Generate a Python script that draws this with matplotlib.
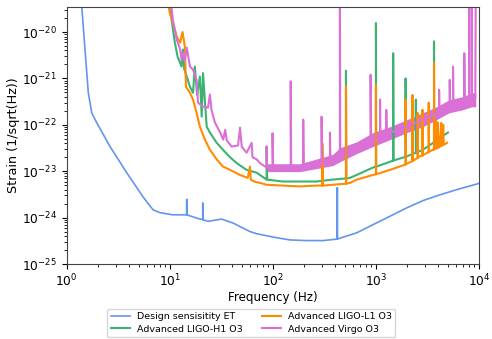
import numpy as np
import matplotlib.pyplot as plt

# Einstein Telescope design curve (Hz, 1/sqrt(Hz))
et_freq = [1.36, 1.40, 1.505, 1.62, 1.75, 1.95, 2.63, 3.82, 5.5, 6.87, 8.0, 10.7,
           14.6, 14.6, 14.6, 19.6, 20.9, 20.9, 20.9, 23.6, 31.8, 41.3, 60, 69.7, 101,
           147, 213, 308, 422, 422, 422, 650, 942, 1368, 1985, 2877, 4178, 6067, 9820, 10000]
et_strain = [6e-20, 3.5e-20, 4.15e-21, 4.9e-22, 1.8e-22, 1.12e-22, 3.4e-23, 9.3e-24, 2.8e-24,
             1.48e-24, 1.28e-24, 1.15e-24, 1.15e-24, 2.45e-24, 1.15e-24, 9.3e-25, 9.1e-25,
             2.04e-24, 9.0e-25, 8.3e-25, 9.3e-25, 7.6e-25, 5.0e-25, 4.5e-25, 3.8e-25, 3.3e-25,
             3.2e-25, 3.2e-25, 3.45e-25, 4.4e-24, 3.45e-25, 4.7e-25, 7.1e-25, 1.07e-24,
             1.62e-24, 2.34e-24, 3.1e-24, 4.0e-24, 5.4e-24, 5.5e-24]

# Advanced LIGO Hanford O3
h1_freq = [9.6, 10.4, 11.2, 11.9, 13.0, 13.4, 13.8, 14.6, 15.7, 16.8, 17.5, 18.4, 19.6,
           20.4, 21.0, 22.8, 24.5, 28.5, 32.8, 38.4, 44.5, 55.6, 69.6, 87, 87, 88, 125,
           183, 265, 380, 512, 512, 516, 560, 650, 935, 1000, 1000, 1005, 1370, 1470,
           1470, 1480, 1940, 1940, 1950, 2000, 2440, 2440, 2450, 2850, 3660, 3660, 3670,
           3870, 5000]
h1_strain = [5e-20, 1.85e-20, 5.9e-21, 2.95e-21, 1.8e-21, 4.2e-21, 1.6e-21, 1.1e-21,
             6.6e-22, 4.9e-22, 1.8e-21, 4.4e-22, 1.1e-21, 1.5e-22, 1.3e-21, 9.1e-23,
             6.8e-23, 4.1e-23, 2.9e-23, 2.0e-23, 1.5e-23, 1.07e-23, 9.3e-24, 6.6e-24,
             3.4e-23, 6.6e-24, 6.0e-24, 6.0e-24, 6.0e-24, 6.6e-24, 7.0e-24, 1.47e-21,
             7.0e-24, 7.2e-24, 8.3e-24, 1.2e-23, 1.25e-23, 1.56e-20, 1.25e-23, 1.6e-23,
             1.7e-23, 3.5e-21, 1.7e-23, 2.05e-23, 1.0e-21, 2.05e-23, 2.1e-23, 2.5e-23,
             3.5e-22, 2.5e-23, 2.9e-23, 4.2e-23, 6.3e-21, 4.2e-23, 4.8e-23, 6.8e-23]

# Advanced LIGO Livingston O3
l1_freq = [9.5, 10.0, 10.7, 11.7, 12.6, 13.3, 14.0, 14.35, 15.7, 16.8, 18.2, 19.6, 21.9,
           24.5, 28.5, 32.8, 38.4, 48, 57, 60, 61, 67, 75, 87, 125, 183, 265, 302, 302,
           305, 380, 512, 512, 516, 560, 650, 935, 1000, 1000, 1005, 1370, 1940, 1940,
           1950, 2000, 2260, 2260, 2270, 2540, 2540, 2550, 2670, 2830, 2830, 2840, 3250,
           3250, 3260, 3340, 3660, 3660, 3670, 3800, 3850, 3900, 4000, 4050, 4180, 4300,
           4350, 4500, 4550, 4900]
l1_strain = [5e-20, 2.6e-20, 1.6e-20, 7.9e-21, 5.9e-21, 1.0e-20, 4.8e-21, 6.6e-22, 4.9e-22,
             3.5e-22, 1.8e-22, 9.1e-23, 4.8e-23, 2.9e-23, 1.8e-23, 1.26e-23, 1.07e-23,
             8.3e-24, 7.2e-24, 1.26e-23, 6.6e-24, 5.9e-24, 5.6e-24, 5.1e-24, 4.9e-24,
             4.7e-24, 4.9e-24, 4.9e-24, 4.0e-23, 4.9e-24, 5.1e-24, 5.4e-24, 6.7e-22,
             5.4e-24, 5.6e-24, 6.6e-24, 8.3e-24, 8.6e-24, 7.3e-22, 8.6e-24, 1.07e-23,
             1.4e-23, 3.5e-22, 1.4e-23, 1.45e-23, 1.65e-23, 4.4e-22, 1.65e-23, 1.95e-23,
             1.8e-22, 1.95e-23, 2.1e-23, 2.2e-23, 2.1e-22, 2.2e-23, 2.6e-23, 3.0e-22,
             2.6e-23, 2.7e-23, 2.95e-23, 2.15e-21, 2.95e-23, 3.05e-23, 1.2e-22, 3.1e-23,
             1.1e-22, 3.2e-23, 3.4e-23, 1.1e-22, 3.5e-23, 1.0e-22, 3.7e-23, 4.1e-23]

# Advanced Virgo O3
v1_freq = [10.2, 10.7, 11.7, 12.6, 13.0, 13.4, 14.0, 14.6, 15.7, 16.8, 18.2, 18.8, 21.0,
           23.5, 24.5, 25.4, 27.4, 30.8, 33.0, 34.5, 35.7, 39.8, 46, 48, 49.9, 55.6, 62.3,
           63.5, 69.6, 75, 87, 87, 88, 99.3, 99.3, 100.5, 125, 149, 149, 150.5, 183, 197,
           197, 199, 265, 297, 297, 300, 358, 358, 362, 380, 447, 447, 451, 650, 888, 888,
           895, 935, 1096, 1096, 1105, 1260, 1260, 1270, 1370, 2000, 2850, 3870, 4100,
           4100, 4130, 5200, 5200, 5230, 5600, 5600, 5640, 6950, 7200, 7200, 7250, 8000,
           8000, 8060, 8500, 8500, 8560, 9200, 9300, 10000]
v1_strain = [5e-20, 1.85e-20, 6.8e-21, 4.2e-21, 2.5e-21, 3.5e-21, 2.4e-21, 4.6e-21,
             1.8e-21, 1.55e-21, 9.3e-22, 3.0e-22, 2.45e-22, 2.35e-22, 4.5e-22, 2.1e-22,
             1.12e-22, 6.8e-23, 4.8e-23, 7.8e-23, 4.6e-23, 3.4e-23, 3.6e-23, 8.7e-23,
             3.4e-23, 2.5e-23, 4.1e-23, 2.0e-23, 1.8e-23, 1.5e-23, 1.2e-23, 3.4e-23,
             1.2e-23, 1.15e-23, 6.6e-23, 1.15e-23, 1.13e-23, 1.15e-23, 8.7e-22, 1.15e-23,
             1.19e-23, 1.2e-23, 1.29e-22, 1.2e-23, 1.38e-23, 1.45e-23, 1.5e-22, 1.45e-23,
             1.65e-23, 6.8e-23, 1.65e-23, 1.75e-23, 2.3e-23, 1e-19, 2.3e-23, 3.2e-23,
             4.4e-23, 1.2e-21, 4.4e-23, 4.8e-23, 5.5e-23, 3.5e-22, 5.5e-23, 6.2e-23,
             2.1e-22, 6.2e-23, 6.8e-23, 9.1e-23, 1.29e-22, 1.82e-22, 1.95e-22, 5.7e-22,
             1.95e-22, 2.5e-22, 9.3e-22, 2.5e-22, 2.6e-22, 1.8e-21, 2.6e-22, 3.0e-22,
             3.05e-22, 3.5e-21, 3.05e-22, 3.3e-22, 1e-19, 3.3e-22, 3.5e-22, 1e-19, 3.5e-22,
             3.7e-22, 1e-19, 1e-19]

# spread of the Virgo noise band
v1_band_freq = [87, 183, 380, 447, 650, 935, 1370, 2000, 2850, 3870, 5140, 6950, 8500, 9300]
v1_band_hi = [1.45e-23, 1.45e-23, 2.3e-23, 3.2e-23, 4.3e-23, 6.8e-23, 9.1e-23, 1.29e-22,
              1.82e-22, 2.45e-22, 3.48e-22, 4.04e-22, 4.9e-22, 4.9e-22]
v1_band_lo = [9.8e-24, 9.8e-24, 1.32e-23, 1.6e-23, 2.4e-23, 3.4e-23, 4.8e-23, 6.8e-23,
              9.1e-23, 1.29e-22, 1.82e-22, 2.11e-22, 2.45e-22, 2.45e-22]

y_ticks = [1e-25, 1e-24, 1e-23, 1e-22, 1e-21, 1e-20]


def main():
    fig = plt.figure(figsize=(4.92, 3.39), dpi=100)
    ax = fig.add_axes([0.1356, 0.2212, 0.838, 0.7588])

    ax.plot(et_freq, et_strain, color="cornflowerblue", lw=1.2, label="Design sensisitity ET")
    ax.plot(h1_freq, h1_strain, color="mediumseagreen", lw=1.5, label="Advanced LIGO-H1 O3")
    ax.plot(l1_freq, l1_strain, color="darkorange", lw=1.5, label="Advanced LIGO-L1 O3")
    ax.fill_between(v1_band_freq, v1_band_lo, v1_band_hi, color="orchid", lw=0)
    ax.plot(v1_freq, v1_strain, color="orchid", lw=1.5, label="Advanced Virgo O3")

    ax.set_xscale("log")
    ax.set_yscale("log")
    ax.set_xlim(1, 1e4)
    ax.set_ylim(1e-25, 3.5e-20)
    ax.set_yticks(y_ticks)
    ax.set_xlabel("Frequency (Hz)", fontsize=8.6, labelpad=1.5)
    ax.set_ylabel("Strain (1/sqrt(Hz))", fontsize=9.2, labelpad=1.5)
    ax.tick_params(labelsize=8.8)
    ax.tick_params(axis="x", pad=2.5)
    for s in ax.spines.values():
        s.set_color("#444444")

    fig.legend(loc="upper center", bbox_to_anchor=(0.511, 0.102), ncol=2, fontsize=6.8,
               borderpad=0.35, labelspacing=0.35)

    fig.savefig("out.png", dpi=100)


if __name__ == "__main__":
    main()
